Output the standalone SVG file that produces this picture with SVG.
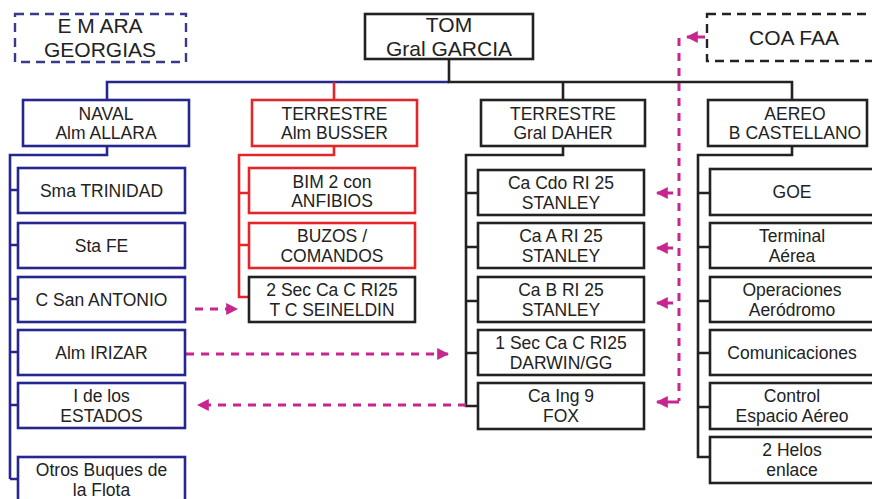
<svg xmlns="http://www.w3.org/2000/svg" width="872" height="499" viewBox="0 0 872 499">
<defs>
<style>
text{font-family:"Liberation Sans",Arial,sans-serif;font-size:17.5px;fill:#222;text-anchor:middle}
.big{font-size:21px}
.bx{fill:#fff;stroke-width:2.6}
.nv{stroke:#262690}
.rd{stroke:#e2262a}
.bk{stroke:#222}
.ln{fill:none;stroke-width:2.6}
.dsh{fill:none;stroke-width:2.4;stroke-dasharray:9 6}
.mg{fill:none;stroke:#c8258f;stroke-width:3;stroke-dasharray:8 7}
.mgs{fill:none;stroke:#c8258f;stroke-width:3}
</style>
<marker id="ah" viewBox="0 0 10 10" refX="9" refY="5" markerWidth="4" markerHeight="4" orient="auto" markerUnits="strokeWidth">
<path d="M0,0 L10,5 L0,10 z" fill="#c8258f"/>
</marker>
</defs>
<rect width="872" height="499" fill="#fff"/>

<g id="connectors">
<path class="ln nv" d="M449,82 H107 V100"/>
<path class="ln bk" d="M449,59 V82 H792 V100"/>
<path class="ln rd" d="M334,82 V100"/>
<path class="ln bk" d="M563,82 V100"/>
<path class="ln nv" d="M107,146 V155 H10 V479 M10,190 H18 M10,245 H18 M10,299 H18 M10,352 H18 M10,405 H18 M10,479 H18"/>
<path class="ln rd" d="M334,146 V155 H239 V297 H249 M239,193 H249 M239,245 H249"/>
<path class="ln bk" d="M563,146 V155 H466 V406 H478 M466,193 H478 M466,247 H478 M466,301 H478 M466,353 H478"/>
<path class="ln bk" d="M792,146 V155 H698 V457 H710 M698,193 H710 M698,247 H710 M698,301 H710 M698,353 H710 M698,407 H710"/>
<path class="mg" d="M195,309 H237" marker-end="url(#ah)"/>
<path class="mg" d="M186,354 H448" marker-end="url(#ah)"/>
<path class="mg" d="M466,405 H198" marker-end="url(#ah)"/>
<path class="mg" d="M679,38 V401"/>
<path class="mgs" d="M705,37 H687" marker-end="url(#ah)"/>
<path class="mgs" d="M673,193 H657" marker-end="url(#ah)"/>
<path class="mgs" d="M673,248 H657" marker-end="url(#ah)"/>
<path class="mgs" d="M673,303 H657" marker-end="url(#ah)"/>
<path class="mgs" d="M679,402 H657" marker-end="url(#ah)"/>
</g>

<g id="emara"><rect class="dsh nv" x="15" y="14" width="171" height="48" style="stroke:#3a3a8a"/><text class="big" x="100" y="33">E M ARA</text><text class="big" x="100" y="57">GEORGIAS</text></g>
<g id="tom"><rect class="bx bk" x="365" y="14" width="168" height="45"/><text class="big" x="449" y="32">TOM</text><text class="big" x="449" y="56">Gral GARCIA</text></g>
<g id="coafaa"><rect class="dsh bk" x="707" y="14" width="180" height="47"/><text class="big" x="794" y="45">COA FAA</text></g>

<g id="naval"><rect class="bx nv" x="23" y="100" width="166" height="46"/><text x="106" y="120">NAVAL</text><text x="106" y="139">Alm ALLARA</text></g>
<g id="busser"><rect class="bx rd" x="252" y="100" width="165" height="46"/><text x="334.5" y="120">TERRESTRE</text><text x="334.5" y="139">Alm BUSSER</text></g>
<g id="daher"><rect class="bx bk" x="481" y="100" width="164" height="46"/><text x="563" y="120">TERRESTRE</text><text x="563" y="139">Gral DAHER</text></g>
<g id="aereo"><rect class="bx bk" x="708" y="100" width="159" height="46"/><text x="795" y="120">AEREO</text><text x="795" y="139">B CASTELLANO</text></g>

<g id="trinidad"><rect class="bx nv" x="18" y="168" width="167" height="45"/><text x="101.5" y="197">Sma TRINIDAD</text></g>
<g id="stafe"><rect class="bx nv" x="18" y="223" width="167" height="45"/><text x="101.5" y="252">Sta FE</text></g>
<g id="sanantonio"><rect class="bx nv" x="18" y="277" width="167" height="45"/><text x="101.5" y="306">C San ANTONIO</text></g>
<g id="irizar"><rect class="bx nv" x="18" y="330" width="167" height="45"/><text x="101.5" y="359">Alm IRIZAR</text></g>
<g id="estados"><rect class="bx nv" x="18" y="383" width="167" height="45"/><text x="101.5" y="402">I de los</text><text x="101.5" y="422">ESTADOS</text></g>
<g id="otros"><rect class="bx nv" x="18" y="457" width="167" height="60"/><text x="101.5" y="476">Otros Buques de</text><text x="101.5" y="496">la Flota</text></g>

<g id="bim2"><rect class="bx rd" x="249" y="168" width="166" height="45"/><text x="332" y="188">BIM 2 con</text><text x="332" y="207">ANFIBIOS</text></g>
<g id="buzos"><rect class="bx rd" x="249" y="223" width="166" height="45"/><text x="332" y="242">BUZOS /</text><text x="332" y="262">COMANDOS</text></g>
<g id="seineldin"><rect class="bx bk" x="249" y="277" width="166" height="45"/><text x="332" y="296">2 Sec Ca C RI25</text><text x="332" y="316">T C SEINELDIN</text></g>

<g id="cacdo"><rect class="bx bk" x="478" y="170" width="166" height="45"/><text x="561" y="189">Ca Cdo RI 25</text><text x="561" y="209">STANLEY</text></g>
<g id="caa"><rect class="bx bk" x="478" y="223" width="166" height="45"/><text x="561" y="242">Ca A RI 25</text><text x="561" y="262">STANLEY</text></g>
<g id="cab"><rect class="bx bk" x="478" y="277" width="166" height="45"/><text x="561" y="296">Ca B RI 25</text><text x="561" y="316">STANLEY</text></g>
<g id="darwin"><rect class="bx bk" x="478" y="330" width="166" height="45"/><text x="561" y="349">1 Sec Ca C RI25</text><text x="561" y="369">DARWIN/GG</text></g>
<g id="fox"><rect class="bx bk" x="478" y="383" width="166" height="46"/><text x="561" y="402">Ca Ing 9</text><text x="561" y="422">FOX</text></g>

<g id="goe"><rect class="bx bk" x="710" y="169" width="175" height="46"/><text x="792" y="198">GOE</text></g>
<g id="terminal"><rect class="bx bk" x="710" y="223" width="175" height="45"/><text x="792" y="242">Terminal</text><text x="792" y="262">Aérea</text></g>
<g id="operaciones"><rect class="bx bk" x="710" y="277" width="175" height="45"/><text x="792" y="296">Operaciones</text><text x="792" y="316">Aeródromo</text></g>
<g id="comunicaciones"><rect class="bx bk" x="710" y="330" width="175" height="45"/><text x="792" y="359">Comunicaciones</text></g>
<g id="control"><rect class="bx bk" x="710" y="383" width="175" height="46"/><text x="792" y="402">Control</text><text x="792" y="422">Espacio Aéreo</text></g>
<g id="helos"><rect class="bx bk" x="710" y="437" width="175" height="46"/><text x="792" y="456">2 Helos</text><text x="792" y="476">enlace</text></g>
</svg>
